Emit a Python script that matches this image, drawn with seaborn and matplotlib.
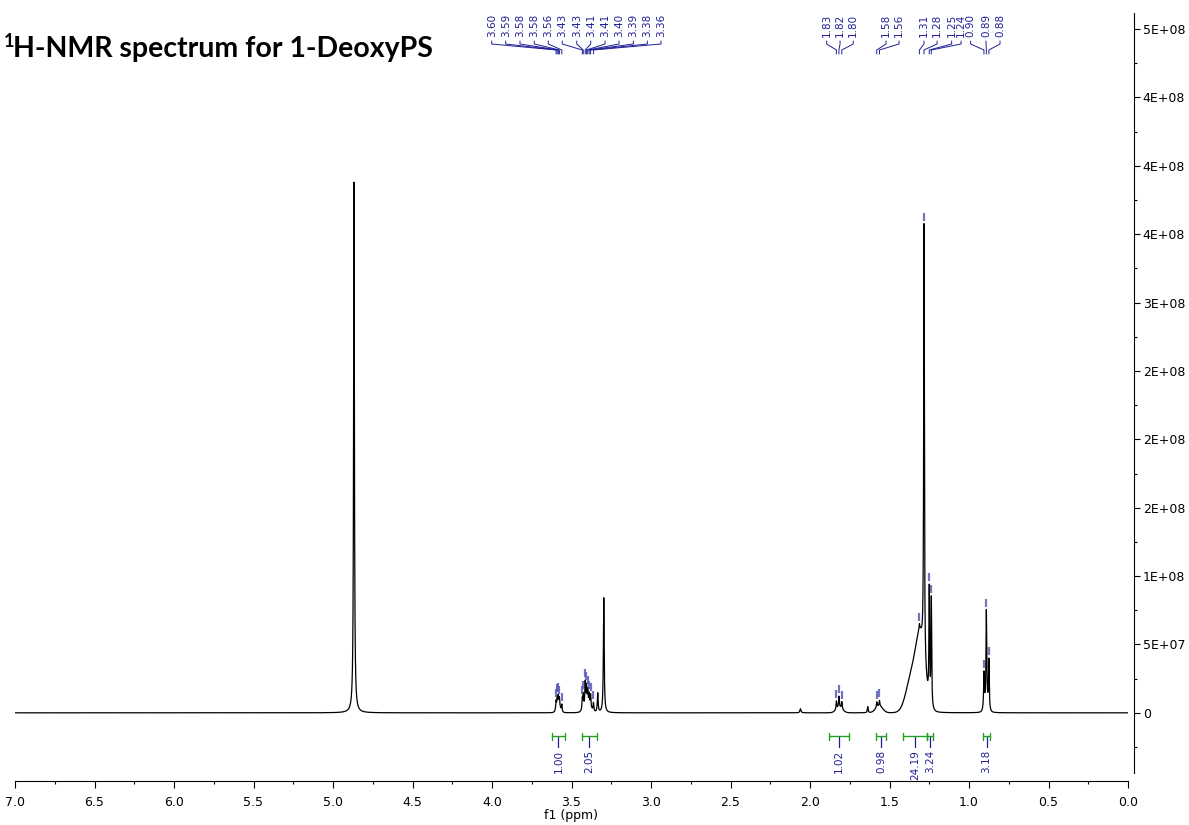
import numpy as np
import pandas as pd
import seaborn as sns
import matplotlib.pyplot as plt
from matplotlib import transforms
from matplotlib.ticker import MultipleLocator, FuncFormatter

# single sharp lines (solvent / water / small bumps): ppm, height (x1e6), half width (ppm)
line_ppm = [4.868, 3.297, 3.335, 1.637, 2.060]
line_height = [388, 84, 14, 4.5, 3]
line_hwhm = [0.003, 0.003, 0.003, 0.003, 0.004]

# picked peaks with their labels
peak_ppm = [3.597, 3.590, 3.583, 3.576, 3.561,
            3.432, 3.426, 3.414, 3.406, 3.398, 3.389, 3.380, 3.362,
            1.834, 1.818, 1.800, 1.580, 1.563,
            1.312, 1.283, 1.250, 1.237,
            0.906, 0.891, 0.875]
peak_height = [6, 7, 7, 6, 5,
               8, 10, 17, 13, 10, 8, 9, 6,
               6, 8, 5, 4, 4,
               4, 318, 82, 79,
               25, 66, 35]
peak_labels = ['3.60', '3.59', '3.58', '3.58', '3.56',
               '3.43', '3.43', '3.41', '3.41', '3.40', '3.39', '3.38', '3.36',
               '1.83', '1.82', '1.80', '1.58', '1.56',
               '1.31', '1.28', '1.25', '1.24',
               '0.90', '0.89', '0.88']

# broad humps under the multiplets: ppm, height (x1e6), sigma (ppm)
hump_ppm = [3.582, 3.400, 1.815, 1.565, 1.305, 1.360, 0.891]
hump_height = [5, 6, 4, 5, 50, 26, 8]
hump_sigma = [0.012, 0.02, 0.02, 0.022, 0.028, 0.035, 0.012]

# integrals
integ_from = [3.623, 3.434, 1.881, 1.585, 1.413, 1.262, 0.910]
integ_to = [3.541, 3.340, 1.755, 1.522, 1.262, 1.225, 0.868]
integ_labels = ['1.00', '2.05', '1.02', '0.98', '24.19', '3.24', '3.18']

# where the peak labels sit along the top (ppm)
label_pos = [4.002, 3.914, 3.824, 3.734, 3.646, 3.558, 3.467, 3.379, 3.289,
             3.201, 3.111, 3.023, 2.937,
             1.895, 1.811, 1.728, 1.522, 1.440,
             1.283, 1.201, 1.109, 1.050, 0.990, 0.893, 0.805]

ppm = np.linspace(7.0, 0.0, 28001)
inten = np.zeros_like(ppm)
for c, h, w in zip(line_ppm + peak_ppm, line_height + peak_height,
                   line_hwhm + [0.0025] * len(peak_ppm)):
    inten += h / (1 + ((ppm - c) / w) ** 2)
for c, h, s in zip(hump_ppm, hump_height, hump_sigma):
    inten += h * np.exp(-0.5 * ((ppm - c) / s) ** 2)
inten *= 1e6
df = pd.DataFrame({'ppm': ppm, 'intensity': inten})

sns.set_style('ticks')
plt.rcParams['font.family'] = ['DejaVu Sans']
plt.rcParams['text.color'] = 'black'
plt.rcParams['axes.labelcolor'] = 'black'
plt.rcParams['axes.edgecolor'] = 'black'
plt.rcParams['xtick.color'] = 'black'
plt.rcParams['ytick.color'] = 'black'

W, H = 1189, 825
fig = plt.figure(figsize=(W / 100, H / 100), dpi=100)
ax = fig.add_axes([15 / W, (H - 773) / H, 1113 / W, 760.3 / H])

sns.lineplot(data=df, x='ppm', y='intensity', ax=ax, color='black', lw=0.9,
             estimator=None, sort=False)

ax.set_xlim(7.0, 0.0)
ax.set_ylim(-4.4e7, 5.12e8)

for s in ['left', 'top']:
    ax.spines[s].set_visible(False)
ax.spines['right'].set_position(('outward', 4.3))
ax.spines['bottom'].set_position(('outward', 5.8))
ax.yaxis.tick_right()
ax.yaxis.set_label_position('right')
ax.set_ylabel('')

ax.xaxis.set_major_locator(MultipleLocator(0.5))
ax.xaxis.set_minor_locator(MultipleLocator(0.25))
ax.xaxis.set_major_formatter(FuncFormatter(lambda v, _: f'{v:.1f}'))
ax.yaxis.set_major_locator(MultipleLocator(5e7))
ax.yaxis.set_minor_locator(MultipleLocator(2.5e7))
ax.yaxis.set_major_formatter(FuncFormatter(lambda v, _: '0' if abs(v) < 1 else f'{v:.0E}'))
ax.tick_params(axis='x', which='major', length=5, width=0.8, labelsize=9, pad=6)
ax.tick_params(axis='x', which='minor', length=2, width=0.8)
ax.tick_params(axis='y', which='major', length=4.3, width=0.8, labelsize=9, pad=2)
ax.tick_params(axis='y', which='minor', length=2.2, width=0.8)
ax.set_xlabel('f1 (ppm)', fontsize=9, labelpad=0)

blue = '#1f1f96'
mark = '#5b5bb8'
green = '#22a022'
tr = transforms.blended_transform_factory(ax.transData, fig.transFigure)


def fy(px):
    return 1 - px / H


# peak labels with fan lines
for lp, pp, lab in zip(label_pos, peak_ppm, peak_labels):
    ax.text(lp, fy(37), lab, transform=tr, rotation=90, ha='center', va='bottom',
            fontsize=7.5, color=blue, clip_on=False)
    ax.plot([lp, lp, pp, pp], [fy(41), fy(44), fy(50), fy(54)], transform=tr,
            color=blue, lw=0.7, clip_on=False)

# peak markers on top of the spectrum
px_unit = (5.12e8 + 4.4e7) / 760.3
for pp in peak_ppm:
    top = np.interp(pp, ppm[::-1], inten[::-1])
    ax.vlines(pp, top + 3 * px_unit, top + 11 * px_unit, color=mark, lw=1.6, alpha=0.85)

# integrals
for a, b, lab in zip(integ_from, integ_to, integ_labels):
    mid = (a + b) / 2
    ax.plot([a, b], [fy(736), fy(736)], transform=tr, color=green, lw=1, clip_on=False)
    ax.plot([a, a], [fy(733), fy(739.5)], transform=tr, color=green, lw=1, clip_on=False)
    ax.plot([b, b], [fy(733), fy(739.5)], transform=tr, color=green, lw=1, clip_on=False)
    ax.plot([mid, mid], [fy(736.5), fy(747)], transform=tr, color=blue, lw=0.9, clip_on=False)
    ax.text(mid, fy(750), lab, transform=tr, rotation=90, ha='center', va='top',
            fontsize=7.5, color=blue, clip_on=False)

# title with a raised "1"
fig.text(4 / W, fy(47), '1', fontsize=13, fontweight='bold',
         family=['Lato', 'DejaVu Sans'], va='baseline', color='black')
fig.text(13 / W, fy(57), 'H-NMR spectrum for 1-DeoxyPS', fontsize=20.5,
         fontweight='bold', family=['Lato', 'DejaVu Sans'], va='baseline', color='black')

fig.savefig('out.png', dpi=100)
